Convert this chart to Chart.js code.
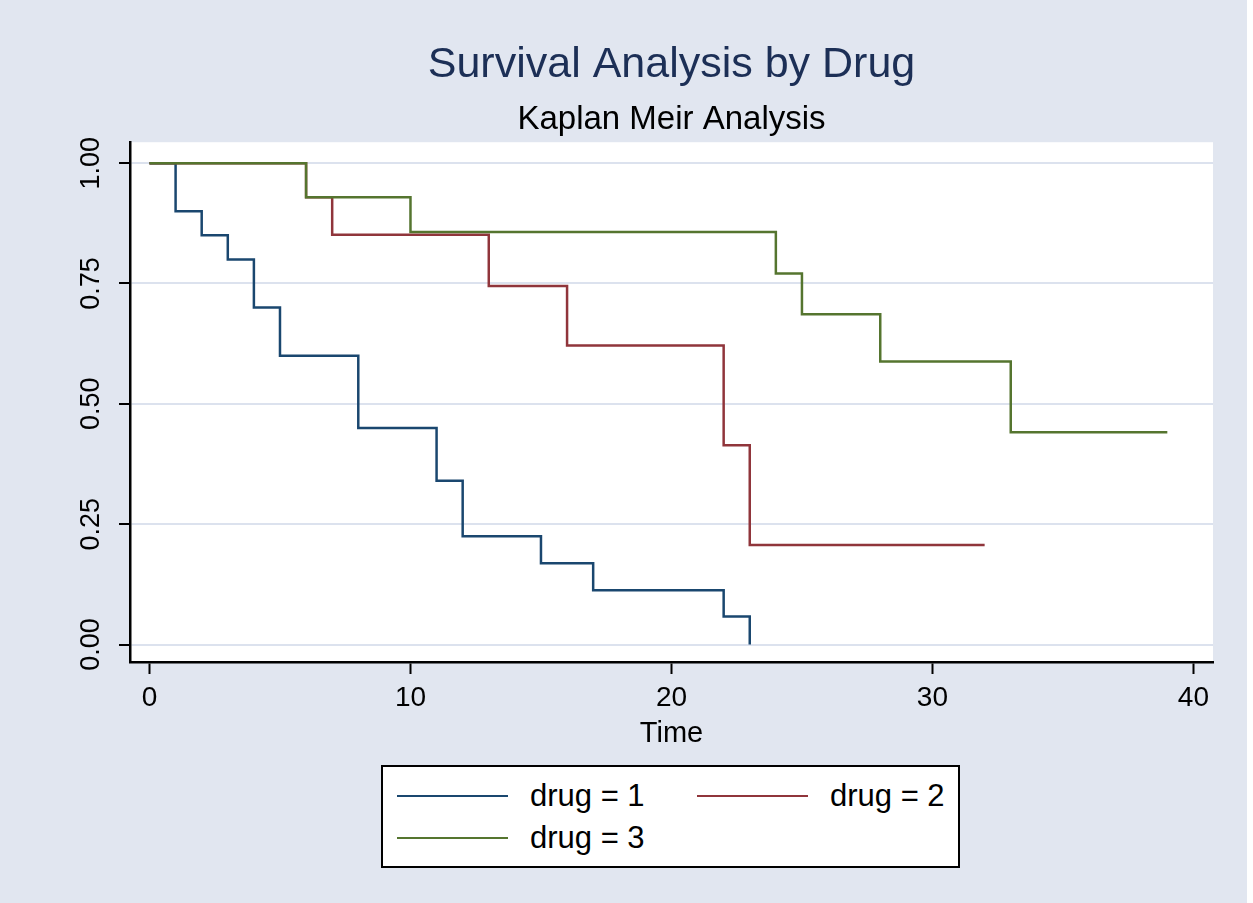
<!DOCTYPE html>
<html>
<head>
<meta charset="utf-8">
<script src="https://cdn.jsdelivr.net/npm/chart.js@4/dist/chart.umd.min.js"></script>
<style>
  html, body { margin: 0; padding: 0; background: #fff; }
  #wrap { position: relative; width: 1247px; height: 903px; background: #e1e6f0; }
  #legend {
    position: absolute; left: 381px; top: 765px; width: 575px; height: 99px;
    border: 2px solid #000; background: #fff;
    font-family: "Liberation Sans", Arial, sans-serif; font-size: 31px; color: #000;
  }
  .item { position: absolute; height: 40px; line-height: 40px; display: flex; align-items: center; white-space: nowrap; }
  .swatch { width: 111px; height: 0; border-top: 2.5px solid; margin-right: 22px; }
</style>
</head>
<body>
<div id="wrap">
  <canvas id="km" width="1247" height="903"></canvas>
  <div id="legend"></div>
</div>
<script>
// Kaplan-Meier steps
const drug1Time = [0, 1, 2, 3, 4, 5, 8, 11, 12, 15, 17, 22, 23];
const drug1Surv = [1, 0.9, 0.85, 0.8, 0.7, 0.6, 0.45, 0.34, 0.225, 0.169, 0.1125, 0.058, 0];
const drug2Time = [0, 6, 7, 13, 16, 22, 23, 32];
const drug2Surv = [1, 0.929, 0.851, 0.745, 0.621, 0.414, 0.207, 0.207];
const drug3Time = [0, 6, 10, 24, 25, 28, 33, 39];
const drug3Surv = [1, 0.929, 0.857, 0.771, 0.686, 0.588, 0.441, 0.441];

const seriesLabels = ['drug = 1', 'drug = 2', 'drug = 3'];
const seriesColors = ['#1a476f', '#90353b', '#55752f'];
const xTicks = [0, 10, 20, 30, 40];
const yTicks = [0, 0.25, 0.5, 0.75, 1];
const yTickLabels = ['0.00', '0.25', '0.50', '0.75', '1.00'];

const FONT = '"Liberation Sans", Arial, sans-serif';
const gridColor = '#dce2ee';

function toPoints(t, s) {
  return t.map((x, i) => ({ x: x, y: s[i] }));
}

// white plot region
const plotBg = {
  id: 'plotBg',
  beforeDraw(chart) {
    const a = chart.chartArea;
    const ctx = chart.ctx;
    ctx.save();
    ctx.fillStyle = '#fff';
    ctx.fillRect(a.left, a.top, a.right - a.left, a.bottom - a.top);
    ctx.restore();
  }
};

// vertical y tick labels, like stata
const yLabels = {
  id: 'yLabels',
  afterDraw(chart) {
    const sc = chart.scales.y;
    const ctx = chart.ctx;
    ctx.save();
    ctx.font = '27px ' + FONT;
    ctx.fillStyle = '#000';
    ctx.textAlign = 'center';
    ctx.textBaseline = 'middle';
    yTicks.forEach((v, i) => {
      const py = sc.getPixelForValue(v);
      ctx.save();
      ctx.translate(92, py);
      ctx.rotate(-Math.PI / 2);
      ctx.fillText(yTickLabels[i], 0, 0);
      ctx.restore();
    });
    ctx.restore();
  }
};

const ctx = document.getElementById('km').getContext('2d');
const kmChart = new Chart(ctx, {
  type: 'line',
  data: {
    datasets: [
      { label: seriesLabels[0], data: toPoints(drug1Time, drug1Surv), borderColor: seriesColors[0], order: 2 },
      { label: seriesLabels[1], data: toPoints(drug2Time, drug2Surv), borderColor: seriesColors[1], order: 1 },
      { label: seriesLabels[2], data: toPoints(drug3Time, drug3Surv), borderColor: seriesColors[2], order: 0 }
    ]
  },
  options: {
    responsive: false,
    animation: false,
    devicePixelRatio: 1,
    layout: { padding: { left: 0, right: 34, top: 0, bottom: 0 } },
    elements: {
      line: { stepped: true, borderWidth: 2.5, fill: false, tension: 0 },
      point: { radius: 0, hoverRadius: 0 }
    },
    plugins: {
      legend: { display: false },
      tooltip: { enabled: false },
      title: {
        display: true,
        fullSize: false,
        text: 'Survival Analysis by Drug',
        color: '#1c2f56',
        font: { family: FONT, size: 43, weight: 'normal', lineHeight: 1.2 },
        padding: { top: 39, bottom: 0 }
      },
      subtitle: {
        display: true,
        fullSize: false,
        text: 'Kaplan Meir Analysis',
        color: '#000',
        font: { family: FONT, size: 33, weight: 'normal', lineHeight: 1.2 },
        padding: { top: 10, bottom: 2 }
      }
    },
    scales: {
      x: {
        type: 'linear',
        min: -0.747,
        max: 40.75,
        afterBuildTicks: (s) => { s.ticks = xTicks.map(v => ({ value: v })); },
        afterFit: (s) => { s.height = 241; },
        ticks: { color: '#000', font: { family: FONT, size: 28 }, padding: 7, maxRotation: 0, autoSkip: false },
        grid: { drawOnChartArea: false, tickColor: '#000', tickLength: 12, tickWidth: 2 },
        border: { color: '#000', width: 2.5 },
        title: {
          display: true, text: 'Time', color: '#000',
          font: { family: FONT, size: 29, lineHeight: 1.2 },
          padding: { top: 0, bottom: 152 }
        }
      },
      y: {
        min: -0.0363,
        max: 1.0435,
        afterBuildTicks: (s) => { s.ticks = yTicks.map(v => ({ value: v })); },
        afterFit: (s) => { s.width = 130; },
        ticks: { display: false },
        grid: { color: gridColor, lineWidth: 2, tickColor: '#000', tickLength: 11, tickWidth: 2 },
        border: { color: '#000', width: 2.5 }
      }
    }
  },
  plugins: [plotBg, yLabels]
});

// legend box below the plot, built from the datasets
const legendPos = [[14, 9], [314, 9], [14, 51]];
const legendEl = document.getElementById('legend');
kmChart.data.datasets.forEach((ds, i) => {
  const item = document.createElement('div');
  item.className = 'item';
  item.style.left = legendPos[i][0] + 'px';
  item.style.top = legendPos[i][1] + 'px';
  const sw = document.createElement('span');
  sw.className = 'swatch';
  sw.style.borderTopColor = ds.borderColor;
  const txt = document.createElement('span');
  txt.textContent = ds.label;
  item.appendChild(sw);
  item.appendChild(txt);
  legendEl.appendChild(item);
});
</script>
</body>
</html>
